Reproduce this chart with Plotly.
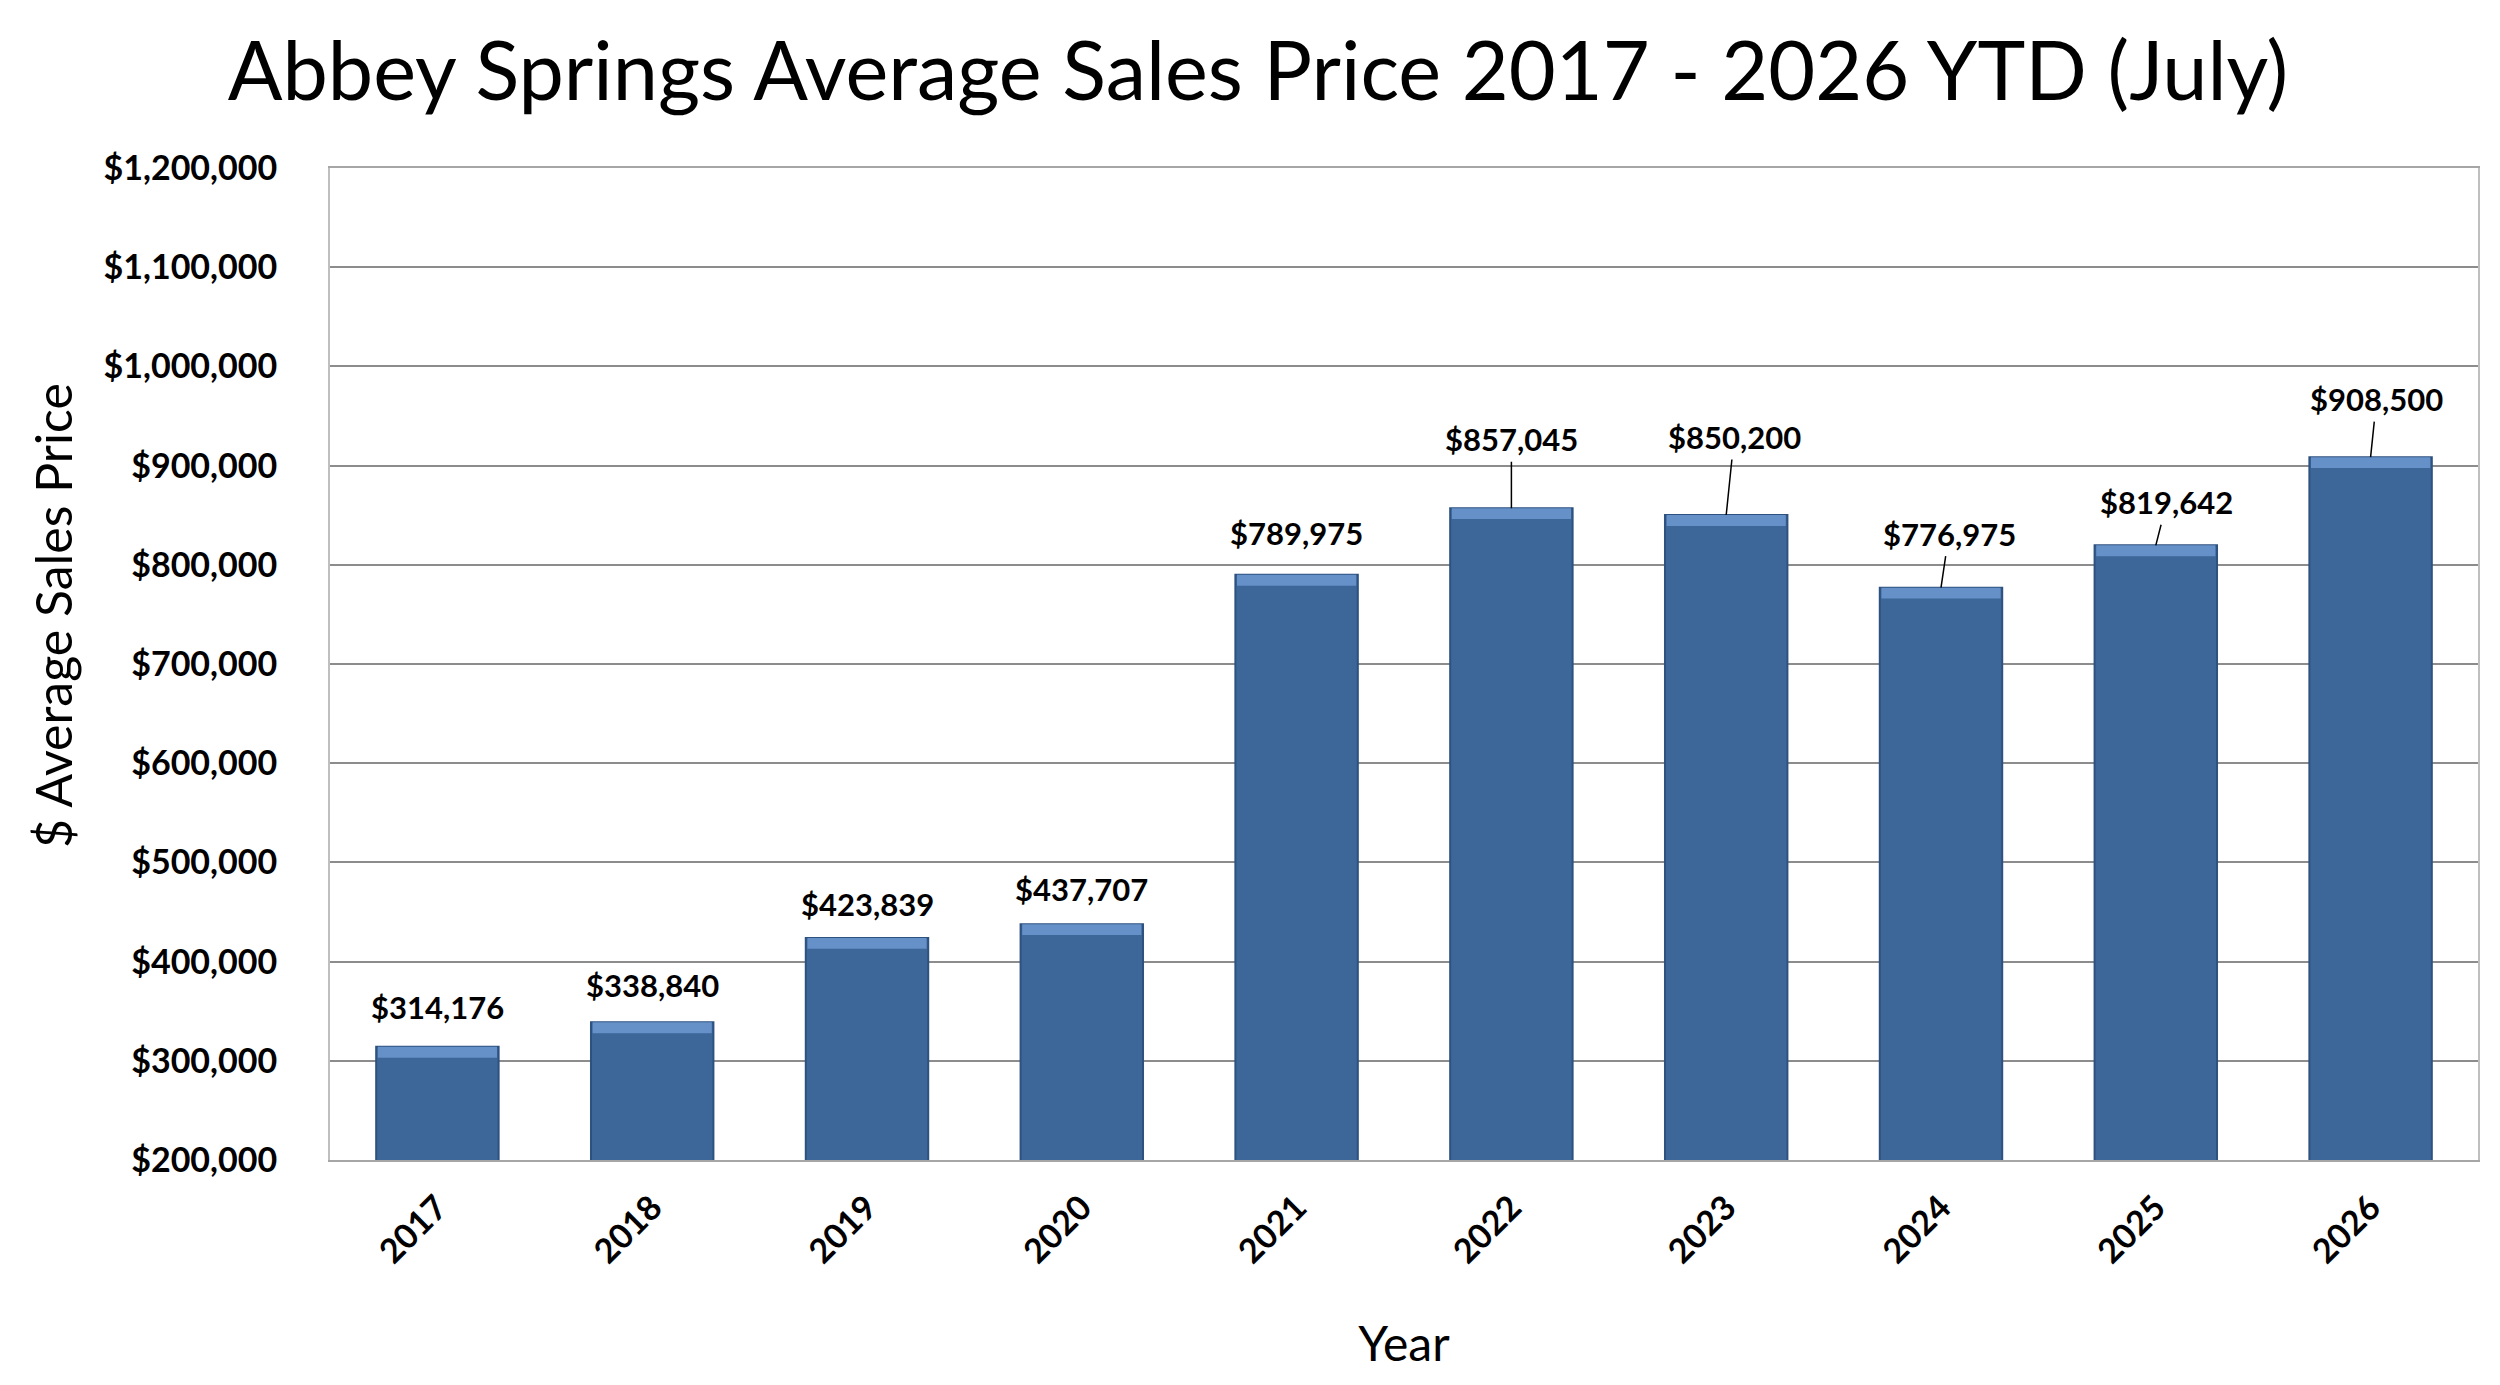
import plotly.graph_objects as go

# ---- data ----
years = ["2017", "2018", "2019", "2020", "2021", "2022", "2023", "2024", "2025", "2026"]
avg_price = [314176, 338840, 423839, 437707, 789975, 857045, 850200, 776975, 819642, 908500]
y_ticks = [200000, 300000, 400000, 500000, 600000, 700000, 800000, 900000, 1000000, 1100000, 1200000]
y_tick_text = ["${:,}".format(t) for t in y_ticks]

# ---- label styling (pixel offsets, leader flag) ----
label_dx = [0, 0, 0, 0, 0, 0, 8, 8, 11, 6]
label_dy = [-40, -37, -34, -35, -42, -69, -78, -54, -43, -58]
label_leader = [False, False, False, False, False, True, True, True, True, True]

FONT = "Lato"
bevel = 11000

fig = go.Figure()
fig.add_trace(go.Bar(
    x=years, y=avg_price, width=0.57,
    marker=dict(color="#3D6699", line=dict(color="#2E5280", width=2)),
    hoverinfo="x+y", showlegend=False,
))
# light bevel strip at the top of each bar
fig.add_trace(go.Bar(
    x=years, y=[bevel] * len(avg_price), base=[v - bevel for v in avg_price],
    width=0.555,
    marker=dict(color="#6590C8", line=dict(width=0)),
    hoverinfo="skip", showlegend=False,
))

lab_font = dict(family=FONT, size=31, color="black")
for i, (v, dx, dy, lead) in enumerate(zip(avg_price, label_dx, label_dy, label_leader)):
    txt = "<b>${:,}</b>".format(v)
    if lead:
        fig.add_annotation(x=i, y=v, xref="x", yref="y", text=txt, showarrow=True, arrowhead=0,
                           arrowwidth=1.5, arrowcolor="black", ax=dx, ay=dy,
                           standoff=0, startstandoff=2, font=lab_font)
    else:
        fig.add_annotation(x=i, y=v, xref="x", yref="y", text=txt, showarrow=False,
                           xshift=dx, yshift=-dy, font=lab_font)

# y-axis title (placed slightly above the plot centre, as in the original)
fig.add_annotation(text="$ Average Sales Price", xref="paper", yref="paper",
                   x=(45 - 322) / 2148, y=(1152 - 608) / 992, textangle=-90,
                   showarrow=False, xanchor="center", yanchor="middle",
                   font=dict(family=FONT, size=50, color="black"))

fig.update_layout(
    width=2500, height=1385,
    barmode="overlay",
    plot_bgcolor="white", paper_bgcolor="white",
    margin=dict(l=322, r=30, t=160, b=233, autoexpand=False),
    title=dict(text="Abbey Springs Average Sales Price 2017 - 2026 YTD (July)",
               x=0.5, xanchor="center", xref="container", y=1 - 64 / 1385, yanchor="middle",
               font=dict(family=FONT, size=81, color="black")),
    font=dict(family=FONT, color="black"),
)
fig.update_xaxes(
    type="category", range=[-0.5, len(years) - 0.5], tickangle=-45, ticks="", ticklabelstandoff=12,
    tickfont=dict(family=FONT, size=34, color="black", weight="bold"),
    showline=True, linecolor="#A6A6A6", linewidth=2, mirror=True,
    title=dict(text="Year", font=dict(family=FONT, size=48, color="black"), standoff=58),
    automargin=False,
)
fig.update_yaxes(
    range=[200000, 1200000], tickvals=y_ticks, ticktext=y_tick_text,
    tickfont=dict(family=FONT, size=34, color="black", weight="bold"),
    ticklabelstandoff=44,
    showgrid=True, gridcolor="#8C8C8C", gridwidth=1.5,
    showline=True, linecolor="#BFBFBF", linewidth=2, mirror=True,
    zeroline=False,
    automargin=False,
)

fig.write_html("out.html")
